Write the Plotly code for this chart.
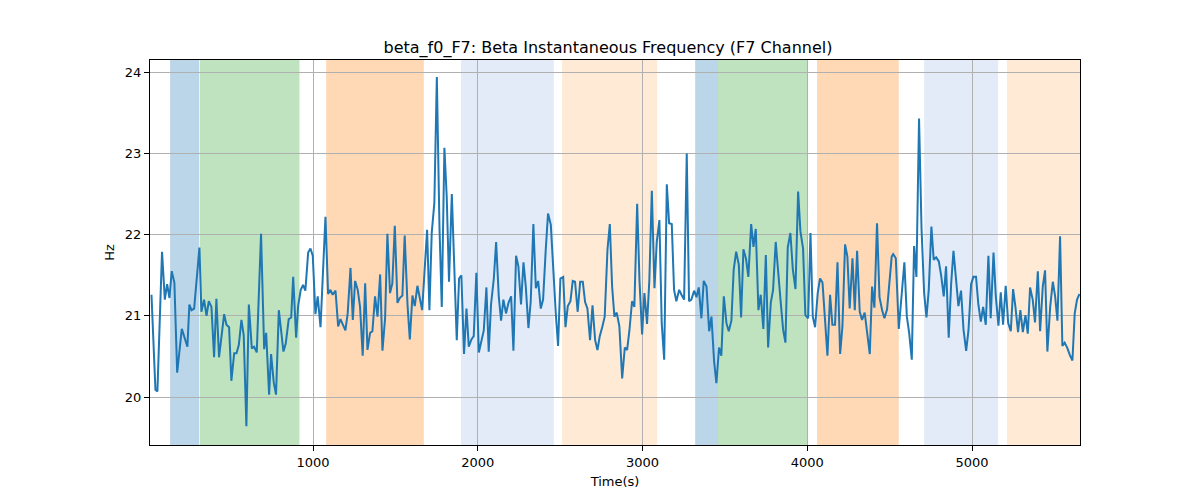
import plotly.graph_objects as go

# ---- data ----
time_s = [19, 43, 55, 83, 100, 114, 128, 142, 158, 175, 203, 237, 249, 262, 278, 310, 322, 338, 353, 367,
          383, 399, 413, 429, 460, 474, 490, 504, 521, 535, 549, 565, 579, 595,
          610, 628, 642, 658, 684, 703, 715, 733, 745, 761, 775, 792, 820, 834, 852, 867, 879, 897, 909, 925,
          939, 953, 970, 984, 998, 1014, 1028, 1045, 1075, 1091, 1105, 1119, 1136, 1152,
          1166, 1180, 1196, 1210, 1227, 1241, 1255, 1271, 1285, 1301, 1316, 1330, 1346, 1360, 1376, 1391,
          1407, 1421, 1437, 1451, 1467, 1481, 1496, 1512, 1526, 1542, 1556, 1573, 1587, 1603, 1617, 1633,
          1647, 1662, 1692, 1706,
          1720, 1736, 1751, 1767, 1781, 1797, 1811, 1825, 1842, 1856, 1872, 1886, 1900, 1916, 1931, 1945,
          1961, 1975, 1991, 2006, 2022, 2036, 2052, 2066, 2080, 2097, 2111, 2127, 2141, 2155, 2171, 2186,
          2202, 2216, 2232, 2246, 2262, 2277,
          2291, 2307, 2321, 2337, 2352, 2366, 2382, 2396, 2412, 2426, 2443, 2457, 2473, 2487, 2501, 2518,
          2532, 2546, 2562, 2576, 2590, 2606, 2621, 2637, 2651, 2665, 2681, 2696, 2712, 2726, 2740, 2756,
          2770, 2787, 2801, 2815, 2829,
          2843, 2859, 2876, 2892, 2906, 2920, 2936, 2950, 2967, 2981, 2997, 3011, 3027, 3041, 3056, 3072,
          3086, 3102, 3116, 3131, 3147, 3161, 3177, 3191, 3205, 3222, 3236, 3252, 3268, 3282, 3296, 3313,
          3327, 3341, 3357, 3371, 3388,
          3404, 3418, 3434, 3448, 3464, 3478, 3493, 3509, 3523, 3539, 3553, 3568, 3584, 3598, 3612, 3628,
          3642, 3659, 3673, 3687, 3703, 3717, 3733, 3748, 3762, 3778, 3792, 3808, 3822, 3837, 3853, 3867,
          3881, 3897, 3912, 3928, 3944,
          3958, 3974, 3988, 4005, 4019, 4033, 4047, 4063, 4077, 4092, 4108, 4122, 4138, 4152, 4168, 4183,
          4199, 4213, 4229, 4243, 4257, 4274, 4288, 4302, 4318, 4332, 4348, 4363, 4379, 4393, 4407, 4423,
          4438, 4454, 4468, 4484, 4498, 4512,
          4521, 4537, 4555, 4573, 4589, 4604, 4618, 4634, 4648, 4662, 4678, 4693, 4709, 4723, 4737, 4753,
          4767, 4782, 4798, 4812, 4828, 4842, 4858, 4873, 4887, 4903, 4917, 4933, 4948, 4964, 4978, 4994,
          5008,
          5024, 5038, 5053, 5067, 5083, 5099, 5113, 5130, 5144, 5160, 5174, 5188, 5204, 5219, 5235, 5249,
          5263, 5279, 5293, 5308, 5324, 5338, 5352, 5368, 5382, 5399, 5413, 5429, 5443, 5457, 5474, 5490,
          5504, 5518, 5534, 5548, 5562, 5579, 5593, 5609, 5623, 5637, 5652]

beta_hz = [21.26, 20.09, 20.07, 21.79, 21.20, 21.39, 21.22, 21.55, 21.41, 20.30, 20.84, 20.62, 21.14, 21.07, 21.09, 21.84, 21.05, 21.20, 21.00, 21.18,
           21.11, 20.49, 21.21, 20.49, 21.02, 20.89, 20.86, 20.20, 20.54, 20.54, 20.64, 20.95, 20.76, 19.64,
           21.14, 20.60, 20.62, 20.55, 22.01, 20.59, 20.79, 20.03, 20.53, 20.18, 20.03, 21.07, 20.56, 20.66, 20.96, 20.98, 21.48, 20.73, 21.12, 21.32,
           21.38, 21.31, 21.78, 21.83, 21.74, 21.02, 21.24, 20.86, 22.22, 21.27, 21.32, 21.26, 21.31, 20.87,
           20.96, 20.90, 20.82, 21.03, 21.59, 20.95, 21.43, 21.32, 21.11, 20.51, 21.40, 20.58, 20.79, 20.81, 21.24, 20.99,
           21.51, 20.57, 20.97, 22.01, 21.28, 21.40, 22.11, 21.16, 21.22, 21.25, 21.99, 21.14, 20.71, 21.25, 21.12, 21.37,
           21.20, 21.07, 22.06, 21.07,
           22.02, 22.39, 23.94, 22.10, 21.11, 23.07, 22.47, 21.42, 22.50, 21.69, 20.70, 21.46, 21.50, 20.53, 21.09, 20.62,
           20.71, 20.75, 21.53, 20.55, 20.70, 20.82, 21.35, 20.56, 21.14, 21.46, 21.91, 21.24, 20.94, 21.20, 21.03, 21.16,
           21.24, 20.57, 21.74, 21.61, 21.14, 21.66,
           21.36, 20.85, 21.18, 22.13, 21.34, 21.43, 21.09, 21.20, 21.81, 22.26, 22.12, 21.52, 21.03, 20.63, 21.46, 21.48,
           20.86, 21.12, 21.18, 21.43, 21.42, 21.05, 21.42, 21.42, 21.17, 21.09, 20.70, 21.13, 20.70, 20.58, 20.75, 20.87,
           20.99, 21.82, 22.13, 21.36, 20.99,
           21.04, 20.87, 20.23, 20.61, 20.58, 20.82, 21.18, 21.11, 22.38, 21.44, 20.77, 21.28, 20.90, 21.44, 22.54, 21.34,
           21.91, 22.18, 20.91, 20.46, 22.62, 22.14, 22.13, 21.32, 21.18, 21.32, 21.26, 21.20, 23.00, 21.18, 21.20, 21.31,
           21.23, 21.35, 20.97, 21.43, 21.36,
           20.81, 20.99, 20.44, 20.17, 20.61, 20.51, 21.24, 20.91, 20.81, 20.94, 21.57, 21.79, 21.63, 20.98, 21.82, 21.70,
           21.48, 22.13, 21.85, 22.07, 21.07, 21.26, 20.84, 21.75, 20.61, 21.16, 21.32, 21.91, 21.61, 21.20, 20.83, 20.67,
           21.84, 22.02, 21.57, 21.33, 22.53,
           22.04, 21.83, 21.01, 20.97, 22.02, 20.99, 20.86, 21.28, 21.46, 21.41, 20.95, 20.51, 21.26, 20.89, 20.89, 21.66,
           20.53, 20.87, 21.88, 21.73, 21.09, 21.71, 21.07, 21.80, 21.05, 20.95, 21.04, 20.75, 20.53, 21.36, 21.10, 22.14,
           21.23, 21.07, 20.97, 21.08, 21.36, 21.73,
           21.76, 21.71, 20.84, 21.25, 21.66, 20.99, 20.79, 20.46, 21.86, 21.48, 23.43, 22.08, 21.28, 20.98, 21.32, 22.10,
           21.69, 21.72, 21.67, 21.50, 21.24, 21.61, 20.73, 21.40, 21.80, 21.44, 21.12, 21.31, 20.83, 20.57, 20.82, 21.39,
           21.48,
           21.48, 21.14, 20.93, 21.11, 20.89, 21.74, 20.97, 21.78, 21.24, 20.88, 21.29, 20.89, 21.37, 20.91, 20.81, 21.33,
           21.11, 20.80, 21.07, 20.80, 21.01, 20.78, 21.35, 21.20, 20.92, 21.55, 20.81, 21.36, 21.56, 20.56, 21.11, 21.42,
           21.24, 20.94, 21.98, 20.63, 20.67, 20.60, 20.52, 20.45, 21.03, 21.20, 21.27]

# shaded epochs: (start, end, kind)
band_start = [132, 312, 1079, 1898, 2511, 3319, 3458, 4059, 4709, 5212]
band_end = [308, 917, 1672, 2461, 3088, 3458, 4000, 4555, 5158, 5700]
band_kind = ["blue", "green", "orange", "lightblue", "lightorange",
             "blue", "green", "orange", "lightblue", "lightorange"]

kind_color = {
    "blue": "rgba(31,119,180,0.30)",
    "green": "rgba(44,160,44,0.30)",
    "orange": "rgba(255,127,14,0.30)",
    "lightblue": "rgba(160,188,228,0.30)",
    "lightorange": "rgba(255,187,120,0.30)",
}

x_ticks = [1000, 2000, 3000, 4000, 5000]
y_ticks = [20, 21, 22, 23, 24]

fig = go.Figure()
fig.add_trace(go.Scatter(x=time_s, y=beta_hz, mode="lines",
                         line=dict(color="#1f77b4", width=2), showlegend=False))

for s, e, k in zip(band_start, band_end, band_kind):
    fig.add_vrect(x0=s, x1=e, fillcolor=kind_color[k], line_width=0, layer="below")

axis_common = dict(showline=True, linecolor="black", linewidth=1, mirror=True,
                   ticks="outside", ticklen=5, tickcolor="black", showgrid=True,
                   gridcolor="#b0b0b0", gridwidth=1, zeroline=False,
                   tickfont=dict(size=13, color="black"))

fig.update_layout(
    width=1200, height=500,
    paper_bgcolor="white", plot_bgcolor="white",
    margin=dict(l=142, r=128, t=52, b=63),
    font=dict(family="DejaVu Sans", color="black"),
    title=dict(text="beta_f0_F7: Beta Instantaneous Frequency (F7 Channel)",
               x=0.5, xanchor="center", y=0.911, yanchor="bottom",
               font=dict(size=16, color="black")),
    xaxis=dict(range=[10, 5655], tickvals=x_ticks,
               title=dict(text="Time(s)", font=dict(size=13), standoff=8), **axis_common),
    yaxis=dict(range=[19.41, 24.15], tickvals=y_ticks,
               title=dict(text="Hz", font=dict(size=13), standoff=7), **axis_common),
)

fig.write_html("out.html")
